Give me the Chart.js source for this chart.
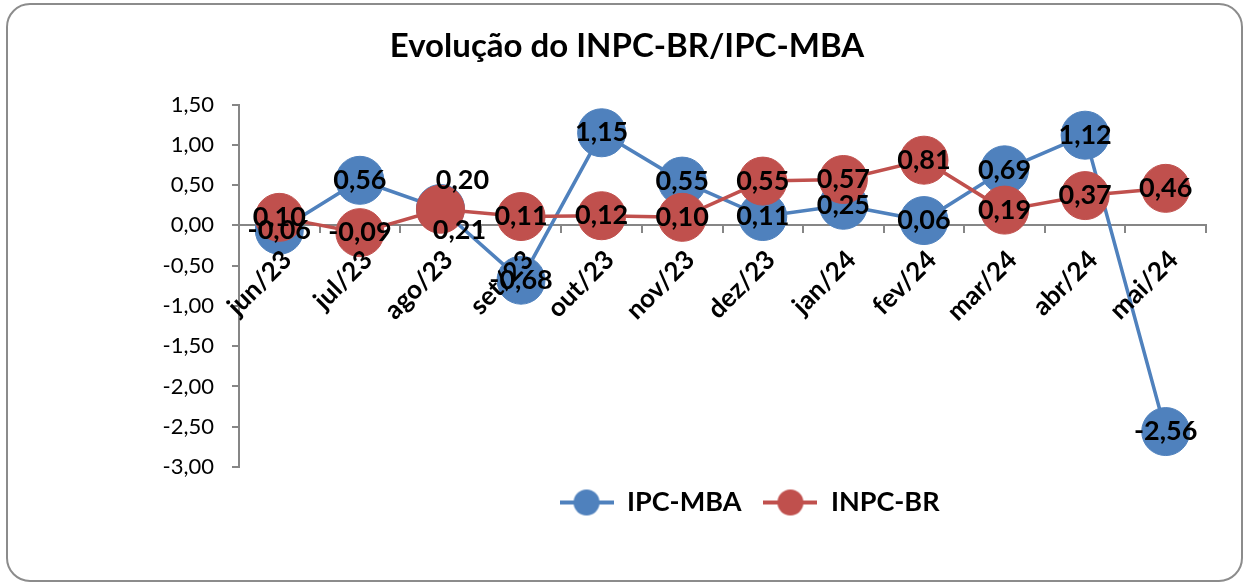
<!DOCTYPE html>
<html>
<head>
<meta charset="utf-8">
<title>Evolução do INPC-BR/IPC-MBA</title>
<script src="https://cdn.jsdelivr.net/npm/chart.js@4.4.0/dist/chart.umd.min.js"></script>
<style>
  html, body { margin: 0; padding: 0; background: #fff; }
  #wrap { position: relative; width: 1249px; height: 585px; }
  #frame {
    position: absolute; left: 6px; top: 3px; width: 1237px; height: 579px;
    border: 2px solid #8c8c8c; border-radius: 24px; box-sizing: border-box;
    pointer-events: none;
  }
  #chart { position: absolute; left: 0; top: 0; }
</style>
</head>
<body>
<div id="wrap">
  <canvas id="chart" width="1249" height="585"></canvas>
  <div id="frame"></div>
</div>
<script>
'use strict';

const months = ['jun/23', 'jul/23', 'ago/23', 'set/23', 'out/23', 'nov/23',
  'dez/23', 'jan/24', 'fev/24', 'mar/24', 'abr/24', 'mai/24'];
const ipcMba = [-0.06, 0.56, 0.21, -0.68, 1.15, 0.55, 0.11, 0.25, 0.06, 0.69, 1.12, -2.56];
const inpcBr = [0.10, -0.09, 0.20, 0.11, 0.12, 0.10, 0.55, 0.57, 0.81, 0.19, 0.37, 0.46];
const yTicks = [1.5, 1.0, 0.5, 0.0, -0.5, -1.0, -1.5, -2.0, -2.5, -3.0];

const BLUE = '#4F81BD';
const RED = '#C0504D';
const FONT = 'Lato, "Open Sans", sans-serif';

function fmt(v) {
  return v.toFixed(2).replace('.', ',');
}

// little line + dot marker like the excel legend
function legendMark(color) {
  let c = document.createElement('canvas');
  c.width = 54;
  c.height = 28;
  let ctx = c.getContext('2d');
  ctx.strokeStyle = color;
  ctx.lineWidth = 4;
  ctx.beginPath();
  ctx.moveTo(0, 14);
  ctx.lineTo(54, 14);
  ctx.stroke();
  ctx.fillStyle = color;
  ctx.beginPath();
  ctx.arc(27, 14, 13, 0, Math.PI * 2);
  ctx.fill();
  return c;
}
const marks = [legendMark(BLUE), legendMark(RED)];

// a couple of labels sit off the dot in the original
const labelShift = {
  0: { 2: [19, 22] },
  1: { 2: [22, -29] }
};

const valueLabels = {
  id: 'valueLabels',
  afterDatasetsDraw(chart) {
    const ctx = chart.ctx;
    ctx.save();
    ctx.font = 'bold 27px ' + FONT;
    ctx.fillStyle = '#000';
    ctx.textAlign = 'center';
    ctx.textBaseline = 'middle';
    chart.data.datasets.forEach((ds, di) => {
      const meta = chart.getDatasetMeta(di);
      meta.data.forEach((pt, i) => {
        const s = (labelShift[di] && labelShift[di][i]) || [0, 0];
        ctx.fillText(fmt(ds.data[i]), pt.x + s[0], pt.y + s[1]);
      });
    });
    ctx.restore();
  }
};

// excel centres title and legend differently from the plot box
const nudge = {
  id: 'nudge',
  afterLayout(chart) {
    if (chart.legend) {
      chart.legend.left += 27;
      chart.legend.right += 27;
    }
    if (chart.titleBlock) {
      chart.titleBlock.left -= 51;
      chart.titleBlock.right -= 51;
    }
  }
};

const canvasEl = document.getElementById('chart');

new Chart(canvasEl, {
  type: 'line',
  data: {
    labels: months,
    datasets: [{
      label: 'IPC-MBA',
      data: ipcMba,
      borderColor: BLUE,
      backgroundColor: BLUE,
      borderWidth: 3.5,
      pointRadius: 24,
      pointHoverRadius: 24,
      pointBorderWidth: 1,
      pointBackgroundColor: BLUE,
      pointBorderColor: BLUE,
      tension: 0,
      order: 2
    }, {
      label: 'INPC-BR',
      data: inpcBr,
      borderColor: RED,
      backgroundColor: RED,
      borderWidth: 3.5,
      pointRadius: 24,
      pointHoverRadius: 24,
      pointBorderWidth: 1,
      pointBackgroundColor: RED,
      pointBorderColor: RED,
      tension: 0,
      order: 1
    }]
  },
  options: {
    responsive: false,
    animation: false,
    layout: {
      padding: { left: 150, right: 43, top: 0, bottom: 59 }
    },
    scales: {
      x: {
        type: 'category',
        offset: true,
        position: { y: 0 },
        grid: {
          offset: true,
          drawOnChartArea: false,
          tickLength: 7,
          color: '#868686',
          lineWidth: 2
        },
        border: { color: '#868686', width: 2 },
        ticks: {
          z: 1, // month names sit on top of the dots
          minRotation: 45,
          maxRotation: 45,
          padding: 12,
          labelOffset: 8,
          color: '#000',
          font: { family: FONT, size: 26, weight: 'bold' }
        }
      },
      y: {
        min: -3,
        max: 1.5,
        afterBuildTicks(scale) {
          scale.ticks = yTicks.map(v => ({ value: v }));
        },
        afterFit(scale) {
          scale.width = 89;
        },
        grid: {
          drawOnChartArea: false,
          tickLength: 7,
          color: '#868686',
          lineWidth: 2
        },
        border: { color: '#868686', width: 2 },
        ticks: {
          padding: 18,
          color: '#000',
          font: { family: FONT, size: 22 },
          callback: v => fmt(v)
        }
      }
    },
    plugins: {
      title: {
        display: true,
        text: 'Evolução do INPC-BR/IPC-MBA',
        color: '#000',
        font: { family: FONT, size: 33, weight: 'bold' },
        padding: { top: 27, bottom: 38 }
      },
      legend: {
        position: 'bottom',
        fullSize: false,
        labels: {
          usePointStyle: true,
          pointStyleWidth: 54,
          padding: 22,
          color: '#000',
          font: { family: FONT, size: 27, weight: 'bold' },
          sort: (a, b) => a.datasetIndex - b.datasetIndex,
          generateLabels(chart) {
            const items = Chart.defaults.plugins.legend.labels.generateLabels(chart);
            items.forEach(it => { it.pointStyle = marks[it.datasetIndex]; });
            return items;
          }
        }
      },
      tooltip: { enabled: false }
    }
  },
  plugins: [valueLabels, nudge]
});
</script>
</body>
</html>
